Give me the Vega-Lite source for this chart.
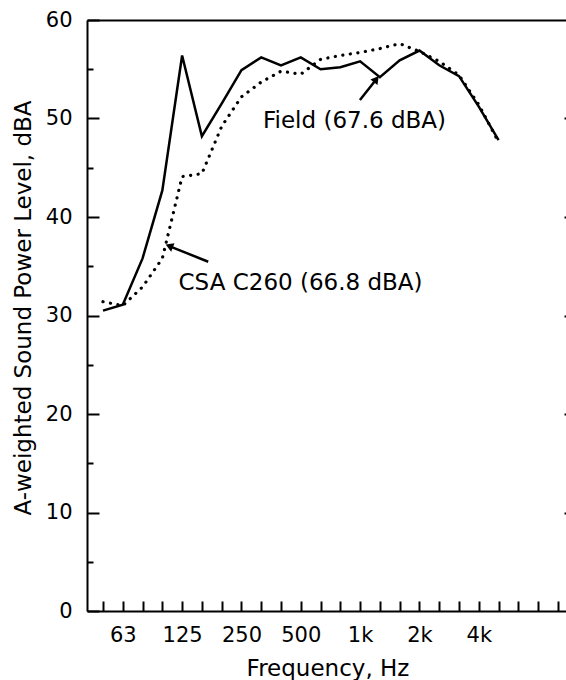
{
  "$schema": "https://vega.github.io/schema/vega-lite/v6.json",
  "width": 481,
  "height": 591,
  "autosize": {"type": "none"},
  "padding": {"left": 87, "top": 20, "right": 0, "bottom": 69},
  "background": "white",
  "config": {
    "view": {"stroke": null},
    "font": "DejaVu Sans",
    "axis": {
      "grid": false,
      "domainColor": "black",
      "tickColor": "black",
      "labelColor": "black",
      "titleColor": "black",
      "domainWidth": 2,
      "tickWidth": 2,
      "labelFont": "DejaVu Sans",
      "titleFont": "DejaVu Sans",
      "labelFontSize": 21,
      "titleFontSize": 23,
      "titleFontWeight": "normal"
    }
  },
  "datasets": {
    "levels": [
      {"series": "Field", "band": 0, "level": 30.5},
      {"series": "Field", "band": 1, "level": 31.1},
      {"series": "Field", "band": 2, "level": 35.8},
      {"series": "Field", "band": 3, "level": 42.7},
      {"series": "Field", "band": 4, "level": 56.4},
      {"series": "Field", "band": 5, "level": 48.2},
      {"series": "Field", "band": 6, "level": 51.5},
      {"series": "Field", "band": 7, "level": 54.9},
      {"series": "Field", "band": 8, "level": 56.2},
      {"series": "Field", "band": 9, "level": 55.4},
      {"series": "Field", "band": 10, "level": 56.2},
      {"series": "Field", "band": 11, "level": 55.0},
      {"series": "Field", "band": 12, "level": 55.2},
      {"series": "Field", "band": 13, "level": 55.8},
      {"series": "Field", "band": 14, "level": 54.2},
      {"series": "Field", "band": 15, "level": 55.9},
      {"series": "Field", "band": 16, "level": 56.9},
      {"series": "Field", "band": 17, "level": 55.4},
      {"series": "Field", "band": 18, "level": 54.3},
      {"series": "Field", "band": 19, "level": 51.2},
      {"series": "Field", "band": 20, "level": 47.8},
      {"series": "CSA C260", "band": 0, "level": 31.4},
      {"series": "CSA C260", "band": 1, "level": 31.0},
      {"series": "CSA C260", "band": 2, "level": 32.9},
      {"series": "CSA C260", "band": 3, "level": 35.8},
      {"series": "CSA C260", "band": 4, "level": 44.1},
      {"series": "CSA C260", "band": 5, "level": 44.4},
      {"series": "CSA C260", "band": 6, "level": 49.2},
      {"series": "CSA C260", "band": 7, "level": 52.2},
      {"series": "CSA C260", "band": 8, "level": 53.7},
      {"series": "CSA C260", "band": 9, "level": 54.8},
      {"series": "CSA C260", "band": 10, "level": 54.5},
      {"series": "CSA C260", "band": 11, "level": 56.0},
      {"series": "CSA C260", "band": 12, "level": 56.4},
      {"series": "CSA C260", "band": 13, "level": 56.7},
      {"series": "CSA C260", "band": 14, "level": 57.1},
      {"series": "CSA C260", "band": 15, "level": 57.6},
      {"series": "CSA C260", "band": 16, "level": 56.8},
      {"series": "CSA C260", "band": 17, "level": 55.8},
      {"series": "CSA C260", "band": 18, "level": 54.4},
      {"series": "CSA C260", "band": 19, "level": 51.4},
      {"series": "CSA C260", "band": 20, "level": 47.6}
    ],
    "arrows": [
      {"series": "CSA C260", "x": 5.32, "y": 35.46, "x2": 3.41, "y2": 37.0},
      {"series": "Field", "x": 12.99, "y": 51.88, "x2": 13.78, "y2": 53.89}
    ],
    "labels": [
      {"series": "Field", "x": 8.09, "y": 49.0, "text": "Field (67.6 dBA)"},
      {"series": "CSA C260", "x": 3.82, "y": 32.6, "text": "CSA C260 (66.8 dBA)"}
    ]
  },
  "layer": [
    {
      "data": {"name": "levels"},
      "transform": [{"filter": "datum.series === 'Field'"}],
      "mark": {"type": "line", "color": "black", "strokeWidth": 2.5, "strokeJoin": "miter"},
      "encoding": {
        "x": {
          "field": "band", "type": "quantitative",
          "scale": {"domain": [-0.809, 23.51], "nice": false, "zero": false},
          "axis": {
            "orient": "bottom",
            "values": [0,1,2,3,4,5,6,7,8,9,10,11,12,13,14,15,16,17,18,19,20,21,22,23],
            "tickSize": -10,
            "labelPadding": 23,
            "labelOverlap": false,
            "labelFlush": false,
            "labelExpr": "datum.value==1?'63':datum.value==4?'125':datum.value==7?'250':datum.value==10?'500':datum.value==13?'1k':datum.value==16?'2k':datum.value==19?'4k':''",
            "title": "Frequency, Hz",
            "titleY": 64,
            "titleBaseline": "alphabetic"
          }
        },
        "y": {
          "field": "level", "type": "quantitative",
          "scale": {"domain": [0, 60], "nice": false, "zero": false},
          "axis": {
            "orient": "left",
            "values": [0, 10, 20, 30, 40, 50, 60],
            "tickSize": -12,
            "labelPadding": 27,
            "title": "A-weighted Sound Power Level, dBA",
            "titleX": -57,
            "titleY": 287.5,
            "titleAngle": -90,
            "titleAlign": "center",
            "titleBaseline": "alphabetic"
          }
        }
      }
    },
    {
      "data": {"name": "levels"},
      "transform": [{"filter": "datum.series === 'CSA C260'"}],
      "mark": {"type": "line", "color": "black", "strokeWidth": 3.2, "strokeDash": [0.1, 7.5], "strokeCap": "round"},
      "encoding": {
        "x": {
          "field": "band", "type": "quantitative",
          "scale": {"domain": [-0.809, 23.51], "nice": false, "zero": false},
          "axis": {"orient": "top", "ticks": false, "labels": false, "title": null, "domain": true}
        },
        "y": {
          "field": "level", "type": "quantitative",
          "scale": {"domain": [0, 60], "nice": false, "zero": false},
          "axis": {"orient": "left", "values": [5, 15, 25, 35, 45, 55], "tickSize": -6, "labels": false, "domain": false, "title": null}
        }
      }
    },
    {
      "data": {"name": "arrows"},
      "mark": {"type": "rule", "color": "black", "strokeWidth": 2.5},
      "encoding": {
        "x": {"field": "x", "type": "quantitative", "scale": {"domain": [-0.809, 23.51], "nice": false, "zero": false}, "axis": null},
        "x2": {"field": "x2"},
        "y": {
          "field": "y", "type": "quantitative",
          "scale": {"domain": [0, 60], "nice": false, "zero": false},
          "axis": {"orient": "right", "values": [10, 20, 30, 40, 50], "tickSize": -4, "labels": false, "domain": false, "title": null}
        },
        "y2": {"field": "y2"}
      }
    },
    {
      "data": {"name": "arrows"},
      "transform": [{"filter": "datum.series === 'CSA C260'"}],
      "mark": {"type": "point", "shape": "triangle", "filled": true, "color": "black", "opacity": 1, "size": 80, "angle": 292},
      "encoding": {
        "x": {"field": "x2", "type": "quantitative", "scale": {"domain": [-0.809, 23.51], "nice": false, "zero": false}, "axis": null},
        "y": {"field": "y2", "type": "quantitative", "scale": {"domain": [0, 60], "nice": false, "zero": false}, "axis": null}
      }
    },
    {
      "data": {"name": "arrows"},
      "transform": [{"filter": "datum.series === 'Field'"}],
      "mark": {"type": "point", "shape": "triangle", "filled": true, "color": "black", "opacity": 1, "size": 80, "angle": 38},
      "encoding": {
        "x": {"field": "x2", "type": "quantitative", "scale": {"domain": [-0.809, 23.51], "nice": false, "zero": false}, "axis": null},
        "y": {"field": "y2", "type": "quantitative", "scale": {"domain": [0, 60], "nice": false, "zero": false}, "axis": null}
      }
    },
    {
      "data": {"name": "labels"},
      "mark": {"type": "text", "align": "left", "baseline": "alphabetic", "fontSize": 23, "font": "DejaVu Sans", "color": "black"},
      "encoding": {
        "x": {"field": "x", "type": "quantitative", "scale": {"domain": [-0.809, 23.51], "nice": false, "zero": false}, "axis": null},
        "y": {"field": "y", "type": "quantitative", "scale": {"domain": [0, 60], "nice": false, "zero": false}, "axis": null},
        "text": {"field": "text"}
      }
    }
  ],
  "resolve": {"axis": {"x": "independent", "y": "independent"}}
}
